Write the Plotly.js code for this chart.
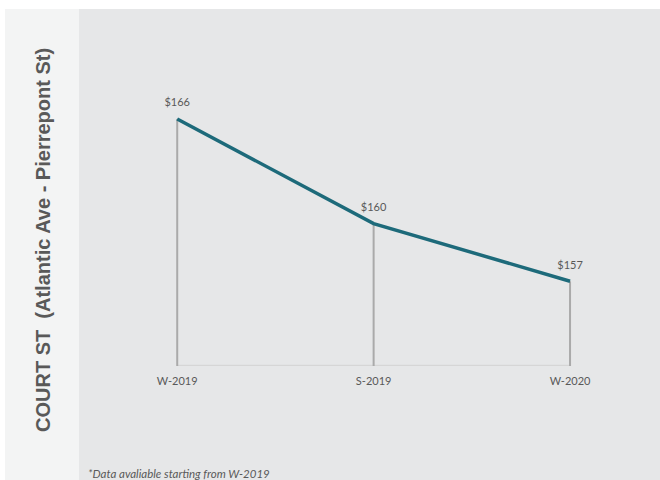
<!DOCTYPE html>
<html>
<head>
<meta charset="utf-8">
<script src="https://cdn.plot.ly/plotly-3.0.1.min.js"></script>
<style>html,body{margin:0;padding:0;background:#fff;}#chart{width:660px;height:480px;}</style>
</head>
<body>
<div id="chart"></div>
<script>
// Data
const periods = ["W-2019", "S-2019", "W-2020"];
const prices = [166.0, 160.2, 157.0];
const axisTitle = "COURT ST\u00a0\u00a0(Atlantic Ave - Pierrepont St)";
const footnote = "*Data avaliable starting from W-2019";

const yMin = 152.3, yMax = 172.1;
const dropLengths = prices.map(v => v - yMin);

const W = 660, H = 480, mL = 79, mT = 9, mB = 114;
const pw = W - mL, ph = H - mT - mB;

const trace = {
  type: "scatter",
  mode: "lines+markers+text",
  x: periods,
  y: prices,
  line: {color: "#1d6a7a", width: 3.5},
  marker: {size: 14, color: "rgba(0,0,0,0)"},
  texttemplate: "$%{y:.0f}",
  textposition: "top center",
  textfont: {family: "Lato, 'Open Sans', sans-serif", size: 11, color: "#595959"},
  error_y: {type: "data", symmetric: false, array: [0, 0, 0], arrayminus: dropLengths,
            color: "#aaaaaa", thickness: 2, width: 0},
  hoverinfo: "skip",
  cliponaxis: false
};

const layout = {
  width: W, height: H,
  margin: {l: mL, r: 0, t: mT, b: mB, pad: 0},
  paper_bgcolor: "#ffffff",
  plot_bgcolor: "rgba(0,0,0,0)",
  showlegend: false,
  xaxis: {
    type: "category",
    range: [-0.5, 2.458],
    showgrid: false, zeroline: false, showline: false,
    ticks: "outside", ticklen: 5, tickcolor: "rgba(0,0,0,0)",
    tickfont: {family: "Lato, 'Open Sans', sans-serif", size: 11, color: "#595959"},
    fixedrange: true
  },
  yaxis: {
    range: [yMin, yMax],
    showgrid: false, zeroline: false, showline: false, showticklabels: false, ticks: "",
    fixedrange: true
  },
  shapes: [
    {type: "rect", xref: "paper", yref: "paper", layer: "below",
     x0: (5 - mL) / pw, x1: 0, y0: -mB / ph, y1: 1,
     fillcolor: "#f3f4f4", line: {width: 0}},
    {type: "rect", xref: "paper", yref: "paper", layer: "below",
     x0: 0, x1: 1, y0: -mB / ph, y1: 1,
     fillcolor: "#e6e7e8", line: {width: 0}},
    {type: "line", xref: "x", yref: "y", layer: "below",
     x0: periods[0], x1: periods[periods.length - 1], y0: yMin, y1: yMin,
     line: {color: "#d6d6d6", width: 2.5}}
  ],
  annotations: [
    {text: "<b>" + axisTitle + "</b>", textangle: -90, showarrow: false,
     xref: "paper", yref: "paper", x: (43 - mL) / pw, y: (H - mB - 240) / ph,
     xanchor: "center", yanchor: "middle",
     font: {family: "'Liberation Sans', Arial, sans-serif", size: 20, color: "#595959"}},
    {text: "<i>" + footnote + "</i>", showarrow: false,
     xref: "paper", yref: "paper", x: (86 - mL) / pw, y: (H - mB - 473) / ph,
     xanchor: "left", yanchor: "middle",
     font: {family: "Lato, 'Open Sans', sans-serif", size: 11.5, color: "#595959"}}
  ]
};

Plotly.newPlot("chart", [trace], layout, {displayModeBar: false, staticPlot: true});
</script>
</body>
</html>
